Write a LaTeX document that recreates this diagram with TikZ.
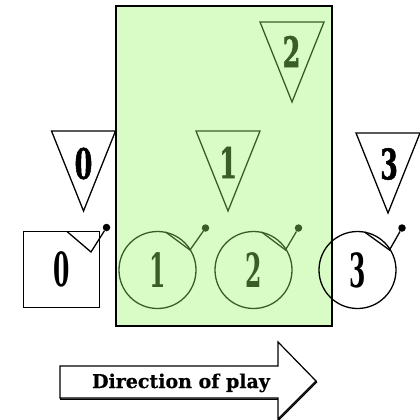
\documentclass[tikz,border=0pt]{standalone}
\usepackage{fontspec}
\usetikzlibrary{calc}
\newfontfamily\circfont{DejaVu Serif}[FakeStretch=0.5]
\newfontfamily\trifont{DejaVu Serif}[FakeStretch=0.6,FakeBold=1.2]
\newfontfamily\labfont{DejaVu Serif}[FakeBold=0.6]
\definecolor{zonefill}{RGB}{217,252,199}
\definecolor{pgreen}{RGB}{56,94,38}
\tikzset{
  zone/.style={fill=zonefill, draw=black, line width=2pt},
  piece/.style={circle, draw, line width=1.3pt, minimum size=77pt, inner sep=0pt,
    font=\circfont\bfseries\fontsize{47}{47}\selectfont},
  sqpiece/.style={rectangle, draw=black, text=black, fill=white, line width=1.3pt, minimum size=76pt, inner sep=0pt,
    font=\circfont\bfseries\fontsize{47}{47}\selectfont},
  tri/.style={line width=1.3pt, line join=miter},
  trinum/.style={inner sep=0pt, font=\trifont\bfseries\fontsize{42}{42}\selectfont},
  pinline/.style={line width=1.3pt},
  pindot/.style={circle, fill, inner sep=0pt, minimum size=7.5pt},
  arrowbox/.style={line width=1.2pt, line join=miter},
  dirlabel/.style={inner sep=0pt, font=\labfont\bfseries\fontsize{19}{19}\selectfont},
}
% #1 node name, #2 colour, #3/#4 chord start, #5/#6 chord end, #7/#8 dot
\newcommand\pinmark[8]{%
  \coordinate (#1a) at ($(#1.center)+(#3,#4)$);
  \coordinate (#1b) at ($(#1.center)+(#5,#6)$);
  \node[pindot,#2] (#1d) at ($(#1.center)+(#7,#8)$) {};
  \draw[pinline,#2] (#1a) -- (#1b) -- (#1d);
}
\begin{document}
\begin{tikzpicture}[x=1pt,y=-1pt]
\useasboundingbox (0,0) rectangle (420,420);
% zone
\draw[zone] (116,6) rectangle (332,326);
% triangles
\draw[tri,black] (51.5,131) -- (115.5,131) -- (83.5,211) -- cycle;
\node[trinum,black] (t0) at (83.5,163.5) {0};
\draw[tri,pgreen] (196,131) -- (260,131) -- (228,211) -- cycle;
\node[trinum,pgreen] (t1) at (228,162.5) {1};
\draw[tri,pgreen] (260,22) -- (324,22) -- (292,102) -- cycle;
\node[trinum,pgreen] (t2) at (291.5,51.5) {2};
\draw[tri,black] (356,133) -- (420,133) -- (388,213) -- cycle;
\node[trinum,black] (t3) at (389,164) {3};
% pieces
\node[sqpiece] (s0) at (61.5,269.5) {0};
\pinmark{s0}{black}{5.5}{-38}{29.5}{-17.5}{45}{-42}
\node[piece,pgreen] (c1) at (157.5,270) {1};
\pinmark{c1}{pgreen}{8}{-38}{32.5}{-20}{48}{-42}
\node[piece,pgreen] (c2) at (253.5,270) {2};
\pinmark{c2}{pgreen}{8}{-38}{32}{-20}{45}{-42}
\node[piece,black] (c3) at (357.5,270) {3};
\pinmark{c3}{black}{7}{-38}{32}{-20}{44.5}{-42}
% direction arrow
\draw[arrowbox,shift={(0.6,1.2)}] (60,366) -- (278,366) -- (278,342) -- (316,381) -- (278,419) -- (278,398) -- (60,398) -- cycle;
\draw[arrowbox,fill=white] (60,366) -- (278,366) -- (278,342) -- (316,381) -- (278,419) -- (278,398) -- (60,398) -- cycle;
\node[dirlabel,anchor=base] (dir) at (181,388) {Direction of play};
\end{tikzpicture}
\end{document}
